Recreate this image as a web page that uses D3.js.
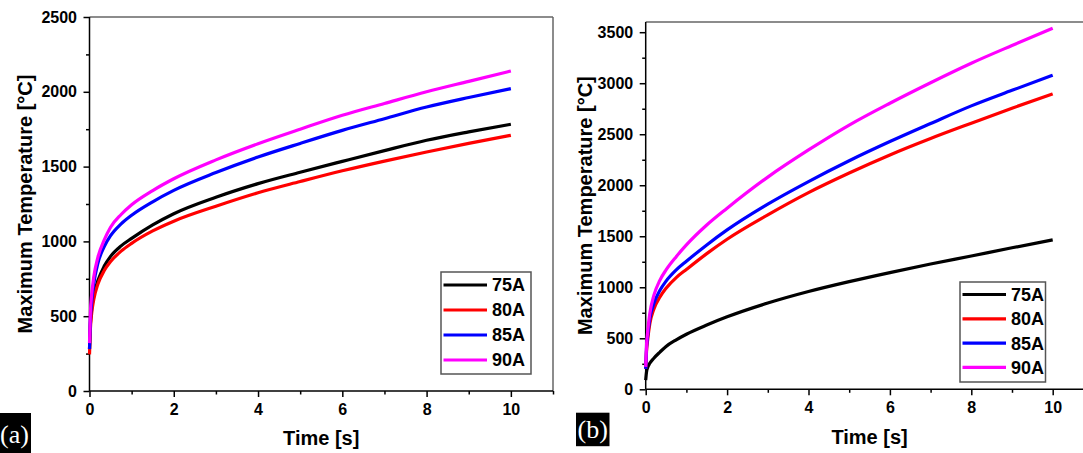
<!DOCTYPE html>
<html>
<head>
<meta charset="utf-8">
<script src="https://cdn.jsdelivr.net/npm/d3@7"></script>
<style>
  html, body { margin: 0; padding: 0; background: #fff; }
  svg { display: block; }
  text { font-family: "Liberation Sans", Arial, sans-serif; font-weight: bold; }
</style>
</head>
<body>
<svg id="chart" width="1083" height="453"></svg>
<script>
// ---- data ----
const times = [0, 0.02, 0.05, 0.1, 0.2, 0.35, 0.5, 0.75, 1, 1.5, 2, 3, 4, 5, 6, 7, 8, 9, 10];
const seriesNames = ["75A", "80A", "85A", "90A"];
const seriesColors = ["#000000", "#ff0000", "#0000ff", "#ff00ff"];

// panel (a)
const a75 = [280, 440, 545, 635, 738, 835, 900, 970, 1020, 1110, 1185, 1295, 1386, 1462, 1535, 1607, 1676, 1732, 1783];
const a80 = [245, 410, 515, 610, 715, 805, 865, 935, 987, 1070, 1135, 1235, 1325, 1400, 1472, 1537, 1598, 1655, 1709];
const a85 = [280, 470, 590, 715, 855, 965, 1038, 1117, 1175, 1265, 1341, 1460, 1564, 1655, 1742, 1820, 1898, 1962, 2021];
const a90 = [320, 520, 640, 760, 895, 1010, 1095, 1180, 1245, 1340, 1419, 1545, 1653, 1750, 1843, 1922, 2000, 2070, 2139];

// panel (b)
const b75 = [90, 170, 215, 255, 305, 365, 420, 485, 540, 630, 710, 845, 958, 1055, 1144, 1228, 1307, 1387, 1464];
const b80 = [200, 370, 490, 640, 785, 905, 990, 1095, 1175, 1330, 1471, 1710, 1928, 2120, 2297, 2458, 2608, 2755, 2895];
const b85 = [200, 400, 530, 690, 840, 970, 1060, 1170, 1255, 1415, 1562, 1815, 2036, 2240, 2428, 2605, 2778, 2930, 3078];
const b90 = [220, 430, 570, 740, 920, 1070, 1170, 1300, 1415, 1610, 1775, 2080, 2346, 2590, 2804, 3005, 3196, 3370, 3539];

const xTicksMajor = [0, 2, 4, 6, 8, 10];
const xTicksMinor = [1, 3, 5, 7, 9, 11];
const yTicksA = [0, 500, 1000, 1500, 2000, 2500];
const yTicksB = [0, 500, 1000, 1500, 2000, 2500, 3000, 3500];

const xTitle = "Time [s]";
const yTitle = "Maximum Temperature [°C]";

// ---- drawing ----
const svg = d3.select("#chart");
svg.append("rect").attr("width", 1083).attr("height", 453).attr("fill", "#fff");

function panel(cfg) {
  const x = d3.scaleLinear().domain([0, 11]).range([cfg.x0, cfg.x1]);
  const y = d3.scaleLinear().domain([0, cfg.yMax]).range([cfg.yBottom, cfg.yTop]);
  const g = svg.append("g");

  // frame top/right
  g.append("line").attr("x1", x(0)).attr("x2", x(11)).attr("y1", y(cfg.yMax)).attr("y2", y(cfg.yMax))
    .attr("stroke", "#666").attr("stroke-width", 1.5);
  g.append("line").attr("x1", x(11)).attr("x2", x(11)).attr("y1", y(cfg.yMax)).attr("y2", y(0))
    .attr("stroke", "#666").attr("stroke-width", 1.5);

  // minor ticks
  const yMinor = d3.range(250, cfg.yMax + 1, 500);
  const xAxisMinor = d3.axisBottom(x).tickValues(xTicksMinor).tickSize(3.5).tickFormat("");
  const yAxisMinor = d3.axisLeft(y).tickValues(yMinor).tickSize(3.5).tickFormat("");
  g.append("g").attr("transform", `translate(0,${y(0)})`).call(xAxisMinor)
    .call(s => s.select(".domain").remove())
    .selectAll("line").attr("stroke", "#000").attr("stroke-width", 1.5);
  g.append("g").attr("transform", `translate(${x(0)},0)`).call(yAxisMinor)
    .call(s => s.select(".domain").remove())
    .selectAll("line").attr("stroke", "#000").attr("stroke-width", 1.5);

  // major axes
  const fmt = d3.format("d");
  const xAxis = d3.axisBottom(x).tickValues(xTicksMajor).tickFormat(fmt).tickSize(6).tickPadding(6.5).tickSizeOuter(0);
  const yAxis = d3.axisLeft(y).tickValues(cfg.yTicks).tickFormat(fmt).tickSize(6).tickPadding(6.5).tickSizeOuter(0);
  const gx = g.append("g").attr("transform", `translate(0,${y(0)})`).call(xAxis);
  const gy = g.append("g").attr("transform", `translate(${x(0)},0)`).call(yAxis);
  [gx, gy].forEach(a => {
    a.attr("font-family", '"Liberation Sans", Arial, sans-serif').attr("font-size", 16);
    a.select(".domain").attr("stroke", "#000").attr("stroke-width", 1.5);
    a.selectAll(".tick line").attr("stroke", "#000").attr("stroke-width", 1.5);
    a.selectAll(".tick text").attr("fill", "#000").style("font-size", "16px")
      .style("font-family", '"Liberation Sans", Arial, sans-serif').style("font-weight", "bold");
  });
  gx.select(".domain").attr("d", `M${x(0)},0H${x(11)}`);
  gy.select(".domain").attr("d", `M0,${y(0)}V${y(cfg.yMax)}`);

  // curves
  const line = d3.line().x(d => x(d[0])).y(d => y(d[1])).curve(d3.curveMonotoneX);
  cfg.series.forEach((vals, i) => {
    g.append("path").datum(times.map((t, j) => [t, vals[j]]))
      .attr("d", line).attr("fill", "none")
      .attr("stroke", seriesColors[i]).attr("stroke-width", 3.2)
      .attr("stroke-linejoin", "round");
  });

  // axis titles
  g.append("text").attr("x", (x(0) + x(11)) / 2).attr("y", cfg.xTitleY)
    .attr("text-anchor", "middle").style("font-size", "20px").text(xTitle);
  g.append("text")
    .attr("transform", `translate(${cfg.yTitleX},${(y(0) + y(cfg.yMax)) / 2}) rotate(-90)`)
    .attr("text-anchor", "middle").style("font-size", "20px").text(yTitle);

  // legend
  const L = cfg.legend;
  g.append("rect").attr("x", L.x).attr("y", L.y).attr("width", L.w).attr("height", L.h)
    .attr("fill", "#fff").attr("stroke", "#555").attr("stroke-width", 1.5);
  seriesNames.forEach((name, i) => {
    const yy = L.firstY + i * L.step;
    g.append("line").attr("x1", L.x + 2.5).attr("x2", L.x + 46).attr("y1", yy).attr("y2", yy)
      .attr("stroke", seriesColors[i]).attr("stroke-width", 3.2);
    g.append("text").attr("x", L.x + 51).attr("y", yy).attr("dy", "0.36em")
      .style("font-size", "18px").attr("fill", "#000").text(name);
  });

  // panel label
  const P = cfg.label;
  g.append("rect").attr("x", P.x).attr("y", P.y).attr("width", P.w).attr("height", P.h).attr("fill", "#000");
  g.append("text").attr("x", P.x + P.w / 2).attr("y", P.y + P.h / 2).attr("dy", "0.33em")
    .attr("text-anchor", "middle").attr("fill", "#fff")
    .style("font-family", '"Liberation Serif", "Times New Roman", serif').style("font-weight", "normal")
    .style("font-size", "26px").text(P.text);
}

panel({
  x0: 89.5, x1: 553, yBottom: 391, yTop: 17, yMax: 2500, yTicks: yTicksA,
  series: [a75, a80, a85, a90],
  xTitleY: 445, yTitleX: 32,
  legend: { x: 441, y: 272, w: 90, h: 102, firstY: 285, step: 25 },
  label: { x: -2, y: 413, w: 33, h: 42, text: "(a)" }
});

panel({
  x0: 645.7, x1: 1093.4, yBottom: 389.3, yTop: 22, yMax: 3600, yTicks: yTicksB,
  series: [b75, b80, b85, b90],
  xTitleY: 444, yTitleX: 592,
  legend: { x: 960, y: 282, w: 85.5, h: 100, firstY: 294.5, step: 24.3 },
  label: { x: 576, y: 412.7, w: 33.5, h: 33.5, text: "(b)" }
});
</script>
</body>
</html>
